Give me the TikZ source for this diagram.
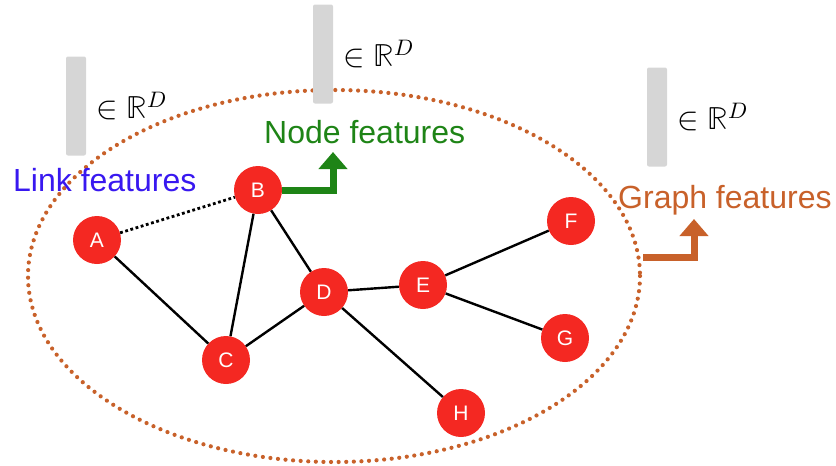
\documentclass[tikz,border=0pt]{standalone}
\usepackage{fontspec}
\setmainfont{Liberation Sans}
\usepackage{amsmath}
\usepackage{unicode-math}
\usetikzlibrary{arrows.meta, positioning}

\definecolor{nodered}{RGB}{244,40,34}
\definecolor{linkblue}{RGB}{56,24,240}
\definecolor{nodegreen}{RGB}{30,132,22}
\definecolor{graphorange}{RGB}{200,97,42}
\definecolor{vecgray}{RGB}{214,214,214}

\begin{document}
\begin{tikzpicture}[x=1pt, y=-1pt,
  vertex/.style={circle, fill=nodered, text=white, minimum size=48pt, inner sep=0pt, font=\fontsize{21}{24}\selectfont},
  edge/.style={line width=2.4pt, black},
  vec/.style={rectangle, fill=vecgray, rounded corners=2pt, minimum width=20pt, minimum height=99pt, inner sep=0pt},
  space/.style={inner sep=0pt, font=\fontsize{32}{36}\selectfont},
  feat/.style={anchor=base west, inner sep=0pt, font=\fontsize{32}{36}\selectfont},
  featarrow/.style={line width=7pt, -{Triangle[width=28pt, length=17pt]}, line join=miter}]

\useasboundingbox (0,0) rectangle (836,466);

% graph boundary
\draw[graphorange, line width=4.2pt, line cap=round, dash pattern=on 0pt off 7.6pt] (334,276) ellipse [x radius=306, y radius=186];

% feature vectors
\node[vec] (vlink) at (76,106) {};
\node[vec] (vnode) at (323,54) {};
\node[vec] (vgraph) at (657,117) {};
\node[space, right=10pt of vlink] (rlink) {$\in\mathbb{R}^D$};
\node[space, right=10pt of vnode] (rnode) {$\in\mathbb{R}^D$};
\node[space, right=10pt of vgraph] (rgraph) {$\in\mathbb{R}^D$};

% labels
\node[feat, text=linkblue] (linkfeat) at (13,191) {Link features};
\node[feat, text=nodegreen] (nodefeat) at (264,143) {Node features};
\node[feat, text=graphorange] (graphfeat) at (618,208) {Graph features};

% nodes
\node[vertex] (A) at (97,240) {A};
\node[vertex] (B) at (258,190) {B};
\node[vertex] (C) at (226,360) {C};
\node[vertex] (D) at (324,292) {D};
\node[vertex] (E) at (423,285) {E};
\node[vertex] (F) at (571,221) {F};
\node[vertex] (G) at (565,338) {G};
\node[vertex] (H) at (461,413) {H};

% edges
\draw[edge, line width=2.8pt, dash pattern=on 2.8pt off 2.6pt] (A) -- (B);
\draw[edge] (A) -- (C);
\draw[edge] (B) -- (C);
\draw[edge] (B) -- (D);
\draw[edge] (C) -- (D);
\draw[edge] (D) -- (E);
\draw[edge] (E) -- (F);
\draw[edge] (E) -- (G);
\draw[edge] (D) -- (H);

% readout arrows
\coordinate (nodetip) at (333,152);
\coordinate (gstart) at (643,257);
\coordinate (gtip) at (694,219);
\draw[featarrow, nodegreen] (B.east) -| (nodetip);
\draw[featarrow, graphorange] (gstart) -| (gtip);

\end{tikzpicture}
\end{document}
